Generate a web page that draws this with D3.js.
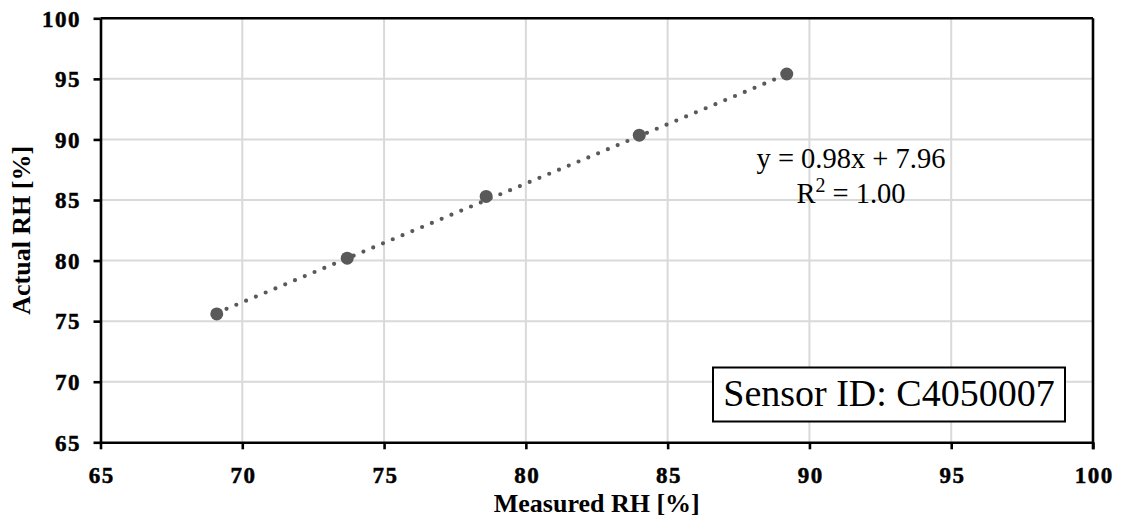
<!DOCTYPE html>
<html><head><meta charset="utf-8">
<script src="https://cdn.jsdelivr.net/npm/d3@7"></script>
<style>
html,body{margin:0;padding:0;background:#fff;}
svg{display:block;}
</style></head>
<body>
<svg id="chart" width="1121" height="519"></svg>
<script>
// ---- data ----
const measuredRH = [69.1, 73.7, 78.6, 84.0, 89.2];
const actualRH   = [75.6, 80.2, 85.3, 90.35, 95.4];
const xTicks = [65, 70, 75, 80, 85, 90, 95, 100];
const yTicks = [65, 70, 75, 80, 85, 90, 95, 100];
const trendSlope = 0.98, trendIntercept = 7.96;
const eqLabel = "y = 0.98x + 7.96";
const r2Label = "1.00";
const sensorLabel = "Sensor ID: C4050007";
const xTitle = "Measured RH [%]";
const yTitle = "Actual RH [%]";

const svg = d3.select("#chart");
const L = 100.5, R = 1093, T = 18.3, B = 442.3;
const x = d3.scaleLinear().domain([65, 100]).range([L, R]);
const y = d3.scaleLinear().domain([65, 100]).range([B, T]);
const serif = "'Liberation Serif', 'Times New Roman', serif";
const grey = "#595959";

// gridlines
svg.append("g").selectAll("line.gx").data(xTicks.slice(1, -1)).join("line")
  .attr("x1", d => x(d)).attr("x2", d => x(d)).attr("y1", T).attr("y2", B)
  .attr("stroke", "#d9d9d9").attr("stroke-width", 2);
svg.append("g").selectAll("line.gy").data(yTicks.slice(1, -1)).join("line")
  .attr("y1", d => y(d)).attr("y2", d => y(d)).attr("x1", L).attr("x2", R)
  .attr("stroke", "#d9d9d9").attr("stroke-width", 2);

// axes
const xAxis = d3.axisBottom(x).tickValues(xTicks).tickSize(7).tickSizeOuter(0);
const yAxis = d3.axisLeft(y).tickValues(yTicks).tickSize(7).tickSizeOuter(0);
const gx = svg.append("g").attr("transform", `translate(0,${B})`).call(xAxis);
const gy = svg.append("g").attr("transform", `translate(${L},0)`).call(yAxis);
[gx, gy].forEach(g => {
  g.attr("font-family", serif).attr("font-size", 23).attr("font-weight", "bold");
  g.select(".domain").attr("stroke", "#000").attr("stroke-width", 2.6);
  g.selectAll(".tick line").attr("stroke", "#000").attr("stroke-width", 2.6);
  g.selectAll(".tick text").attr("fill", "#000")
    .attr("stroke", "#000").attr("stroke-width", 0.5)
    .attr("letter-spacing", 1.5)
    .attr("font-family", serif).attr("font-size", 23).attr("font-weight", "bold");
});
gx.selectAll(".tick text").attr("dy", null).attr("y", 40.5).attr("dx", 0.8);
gy.selectAll(".tick text").attr("dy", "0.34em").attr("x", -19.5);

// top and right border
svg.append("line").attr("x1", L).attr("x2", R).attr("y1", T).attr("y2", T)
  .attr("stroke", "#000").attr("stroke-width", 2.6);
svg.append("line").attr("x1", R).attr("x2", R).attr("y1", T).attr("y2", B + 7)
  .attr("stroke", "#000").attr("stroke-width", 2.6);

// trendline
const xMin = d3.min(measuredRH), xMax = d3.max(measuredRH);
svg.append("line")
  .attr("x1", x(xMin)).attr("y1", y(trendSlope * xMin + trendIntercept))
  .attr("x2", x(xMax)).attr("y2", y(trendSlope * xMax + trendIntercept))
  .attr("stroke", grey).attr("stroke-width", 4.2).attr("stroke-linecap", "round")
  .attr("stroke-dasharray", "0 10.6");

// points
svg.append("g").selectAll("circle").data(measuredRH).join("circle")
  .attr("cx", (d, i) => x(d)).attr("cy", (d, i) => y(actualRH[i]))
  .attr("r", 6.5).attr("fill", grey);

// equation
svg.append("text").attr("x", 851).attr("y", 168).attr("text-anchor", "middle")
  .attr("font-family", serif).attr("font-size", 28.5).attr("fill", "#000")
  .text(eqLabel);
const r2 = svg.append("text").attr("x", 851).attr("y", 203).attr("text-anchor", "middle")
  .attr("font-family", serif).attr("font-size", 28.5).attr("fill", "#000");
r2.append("tspan").text("R");
r2.append("tspan").attr("dy", -11).attr("font-size", 20).text("2");
r2.append("tspan").attr("dy", 11).text(" = " + r2Label);

// sensor ID box
svg.append("rect").attr("x", 713).attr("y", 367.5).attr("width", 352).attr("height", 54)
  .attr("fill", "#fff").attr("stroke", "#000").attr("stroke-width", 2);
svg.append("text").attr("x", 889).attr("y", 405.5).attr("text-anchor", "middle")
  .attr("font-family", serif).attr("font-size", 38).attr("fill", "#000")
  .text(sensorLabel);

// axis titles
svg.append("text").attr("x", (L + R) / 2).attr("y", 512).attr("text-anchor", "middle")
  .attr("font-family", serif).attr("font-weight", "bold").attr("font-size", 26)
  .attr("fill", "#000").text(xTitle);
svg.append("text").attr("transform", `translate(30,${(T + B) / 2}) rotate(-90)`)
  .attr("text-anchor", "middle")
  .attr("font-family", serif).attr("font-weight", "bold").attr("font-size", 26)
  .attr("fill", "#000").text(yTitle);
</script>
</body></html>
